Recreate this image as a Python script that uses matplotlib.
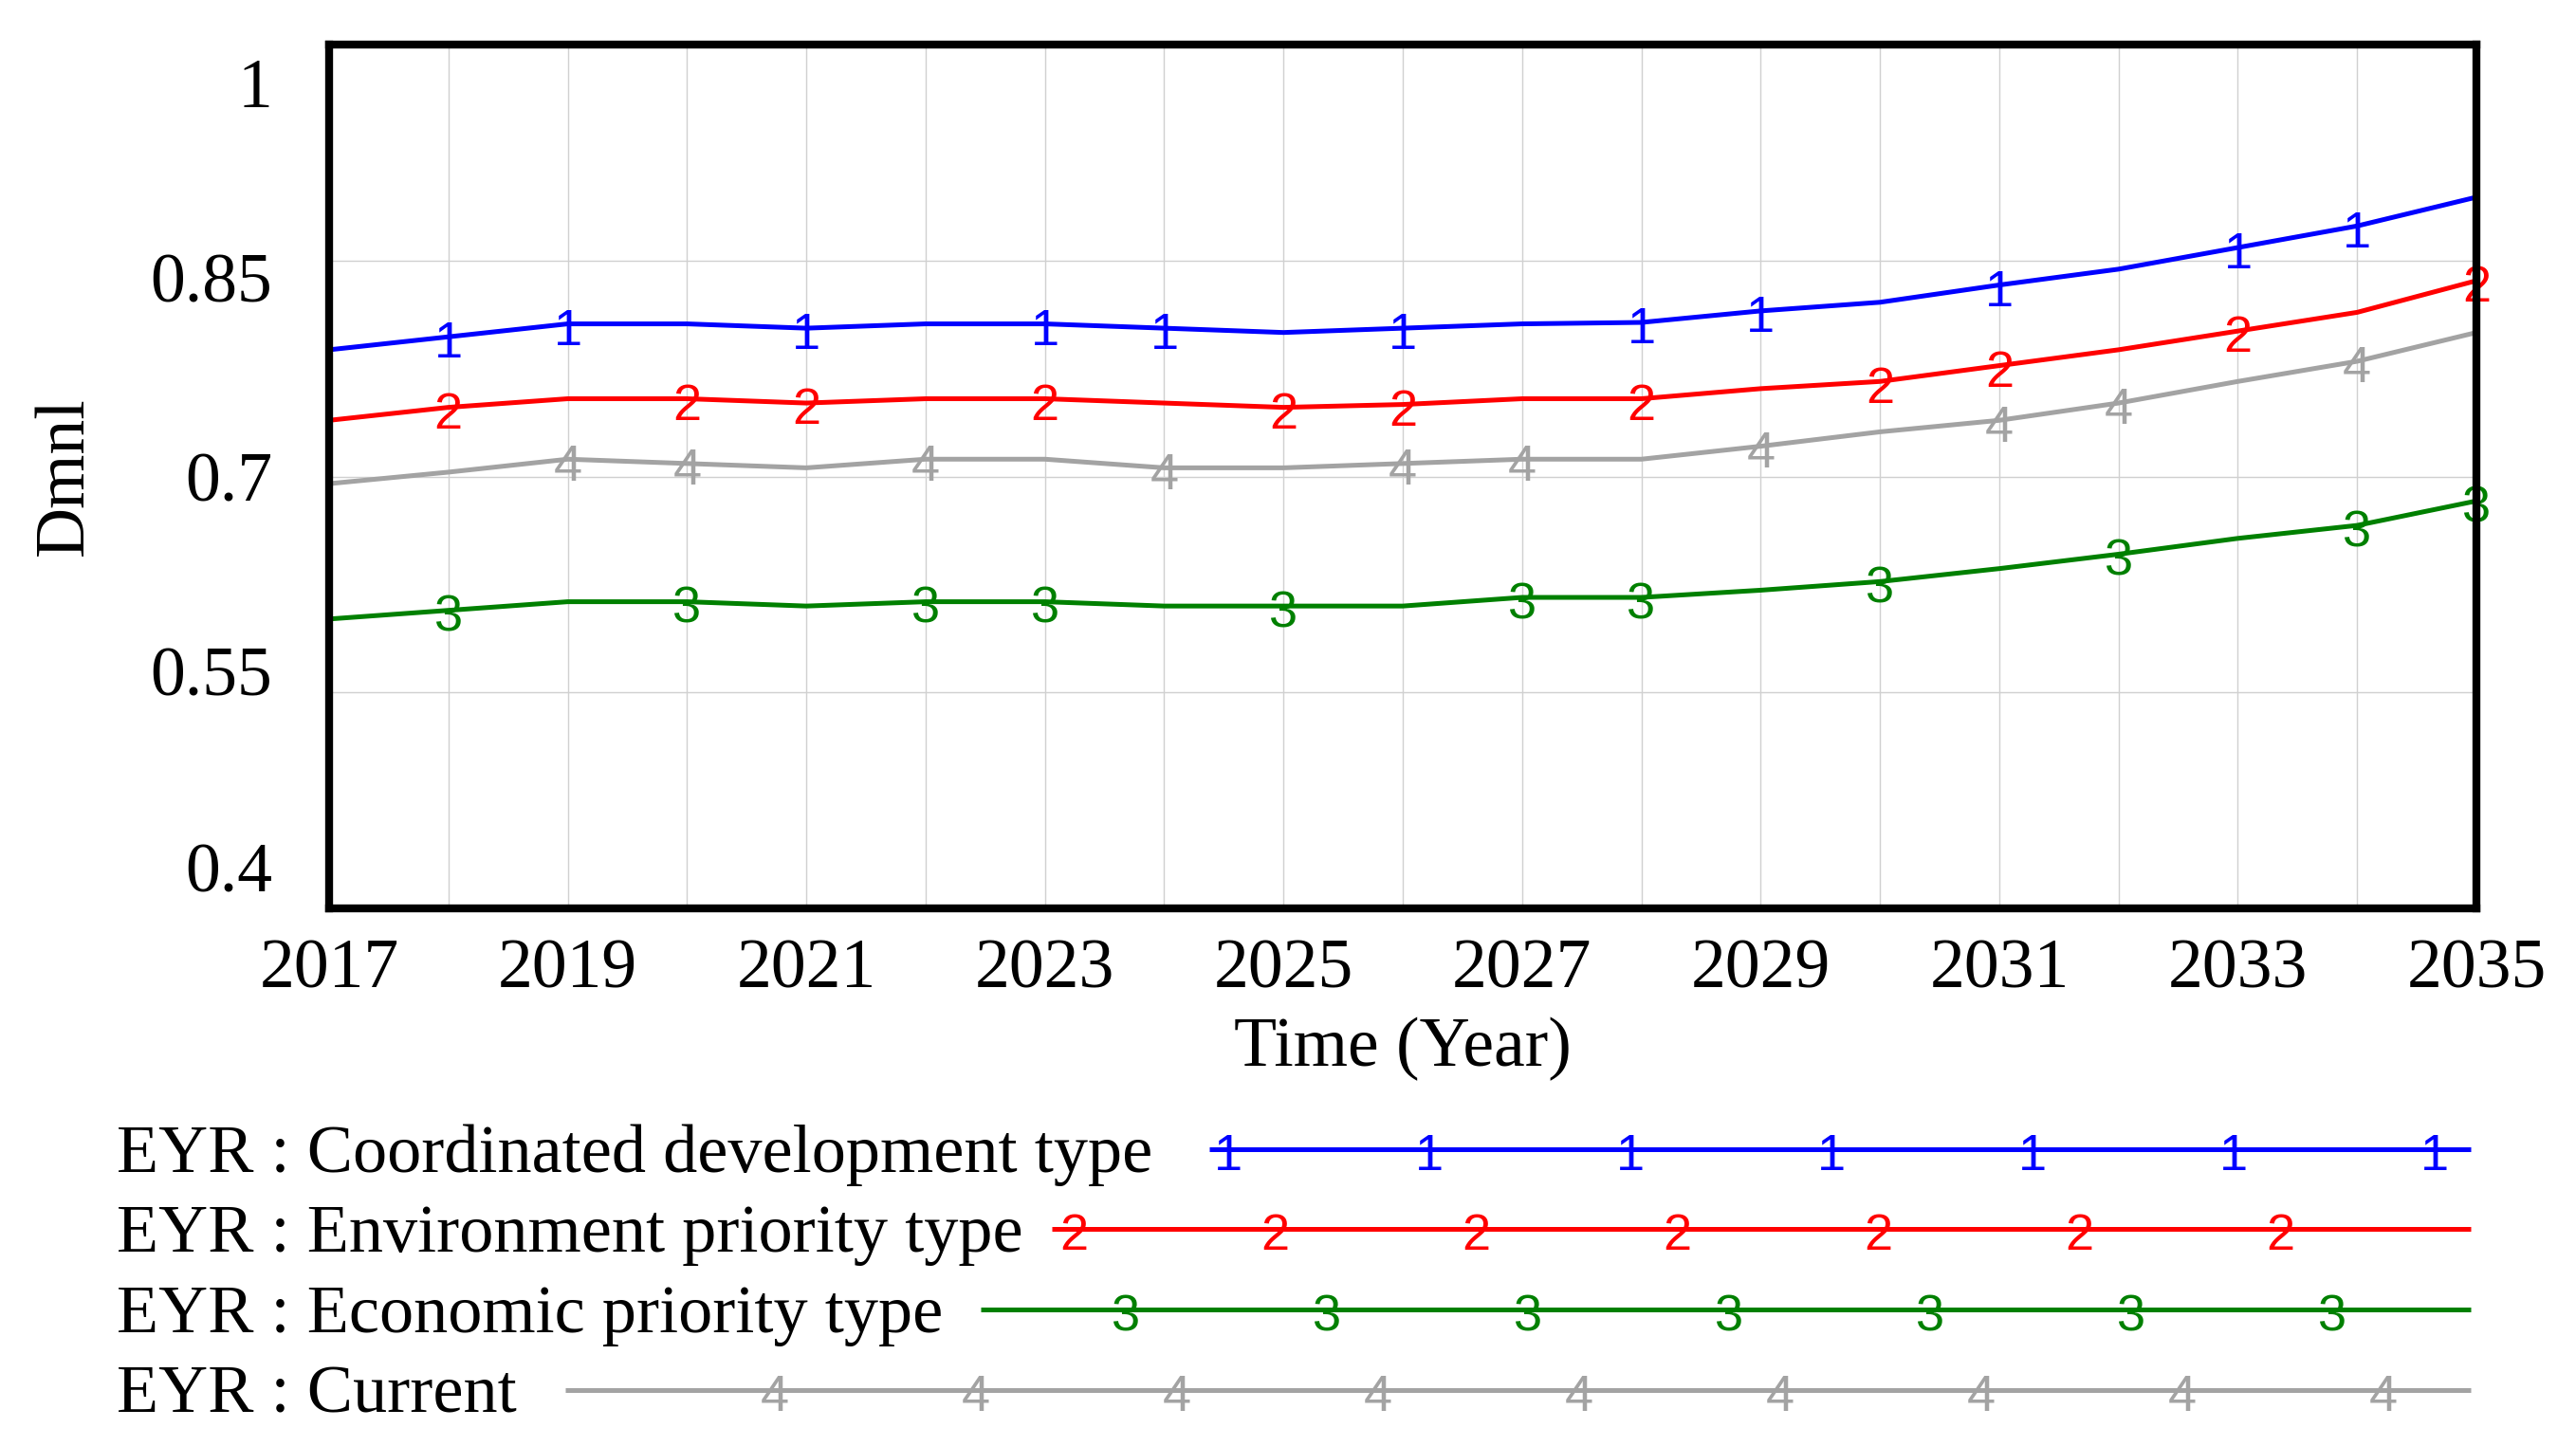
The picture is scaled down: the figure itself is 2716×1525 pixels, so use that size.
import matplotlib
matplotlib.use("Agg")
import matplotlib.pyplot as plt
import matplotlib.transforms as mtransforms
from matplotlib.lines import Line2D
import numpy as np

plt.rcParams['font.family'] = ['Liberation Serif', 'DejaVu Serif']

years = np.arange(2017, 2036)

coordinated = [0.788, 0.797, 0.806, 0.806, 0.803, 0.806, 0.806, 0.803, 0.800, 0.803,
               0.806, 0.807, 0.815, 0.821, 0.833, 0.844, 0.859, 0.874, 0.894]
environment = [0.739, 0.748, 0.754, 0.754, 0.751, 0.754, 0.754, 0.751, 0.748, 0.750,
               0.754, 0.754, 0.761, 0.766, 0.777, 0.788, 0.801, 0.814, 0.836]
economic = [0.601, 0.607, 0.613, 0.613, 0.610, 0.613, 0.613, 0.610, 0.610, 0.610,
            0.616, 0.616, 0.621, 0.627, 0.636, 0.646, 0.657, 0.666, 0.683]
current = [0.695, 0.703, 0.712, 0.709, 0.706, 0.712, 0.712, 0.706, 0.706, 0.709,
           0.712, 0.712, 0.721, 0.731, 0.739, 0.751, 0.766, 0.780, 0.800]

labels = ['EYR : Coordinated development type', 'EYR : Environment priority type',
          'EYR : Economic priority type', 'EYR : Current']
marks = ['1', '2', '3', '4']
colors = ['#0000ff', '#ff0000', '#008000', '#a3a3a3']

# years where vensim put the number glyphs
mark_years = [
    [2018, 2019, 2021, 2023, 2024, 2026, 2028, 2029, 2031, 2033, 2034],
    [2018, 2020, 2021, 2023, 2025, 2026, 2028, 2030, 2031, 2033, 2035],
    [2018, 2020, 2022, 2023, 2025, 2027, 2028, 2030, 2032, 2034, 2035],
    [2019, 2020, 2022, 2024, 2026, 2027, 2029, 2031, 2032, 2034],
]

yticks = [0.4, 0.55, 0.7, 0.85, 1.0]
ytick_labels = ['0.4', '0.55', '0.7', '0.85', '1']
xticks = np.arange(2017, 2036, 2)

W, H = 2716, 1525
fig = plt.figure(figsize=(W / 100, H / 100), dpi=100)
ax = fig.add_axes([347 / W, 1 - 958 / H, (2611 - 347) / W, (958 - 47) / H])

series = [coordinated, environment, economic, current]
for vals, col, mk, myrs in zip(series, colors, marks, mark_years):
    ax.plot(years, vals, color=col, lw=3.6, zorder=3, solid_capstyle='butt')
    for yr in myrs:
        ax.annotate(mk, (yr, vals[yr - 2017]), xytext=(0, -16), textcoords='offset points',
                    ha='center', va='baseline', color=col, fontsize=39,
                    family='Liberation Sans', zorder=4, annotation_clip=False)

ax.set_xlim(2017, 2035)
ax.set_ylim(0.4, 1.0)
ax.set_xticks(xticks)
ax.set_xticks(years, minor=True)
ax.set_yticks(yticks)
ax.set_yticklabels(ytick_labels)
ax.grid(True, which='both', color='#d0d0d0', lw=1.0, zorder=1)
ax.tick_params(axis='both', which='both', length=0, labelsize=53)
ax.tick_params(axis='x', pad=23)
ax.tick_params(axis='y', pad=43)

# vensim spreads the y labels a bit inward from the ends
shifts = [31, 16, 0, -13, -29]
for lab, dy in zip(ax.get_yticklabels(), shifts):
    lab.set_transform(lab.get_transform() + mtransforms.ScaledTranslation(0, dy / 72, fig.dpi_scale_trans))

for sp in ax.spines.values():
    sp.set_linewidth(6)
    sp.set_capstyle('projecting')
    sp.set_zorder(5)

ax.set_xlabel('Time (Year)', fontsize=53)
ax.xaxis.set_label_coords(0.5, -0.126)
ax.set_ylabel('Dmnl', fontsize=53)
ax.yaxis.set_label_coords(-0.108, 0.5)

# legend block under the chart, drawn in pixel coords
lg = fig.add_axes([0, 0, 1, 1], zorder=-1)
lg.set_xlim(0, W)
lg.set_ylim(H, 0)
lg.axis('off')

row_y = [1212, 1296, 1381, 1466]
line_start = [1275, 1107, 1034, 596]
first_mark = [1295, 1132, 1187, 817]
n_marks = [7, 7, 7, 9]
renderer = fig.canvas.get_renderer()
for i in range(4):
    t = lg.text(123, row_y[i] + 24, labels[i], fontsize=52, ha='left', va='baseline')
    x_end = t.get_window_extent(renderer).x1
    x0 = max(x_end + 30, line_start[i])
    lg.add_line(Line2D([x0, 2605], [row_y[i], row_y[i]], color=colors[i], lw=3.6,
                       solid_capstyle='butt'))
    for k in range(n_marks[i]):
        lg.annotate(marks[i], (first_mark[i] + 212 * k, row_y[i]), xytext=(0, -16),
                    textcoords='offset points', ha='center', va='baseline',
                    color=colors[i], fontsize=39, family='Liberation Sans')

fig.savefig('out.png', dpi=100)
